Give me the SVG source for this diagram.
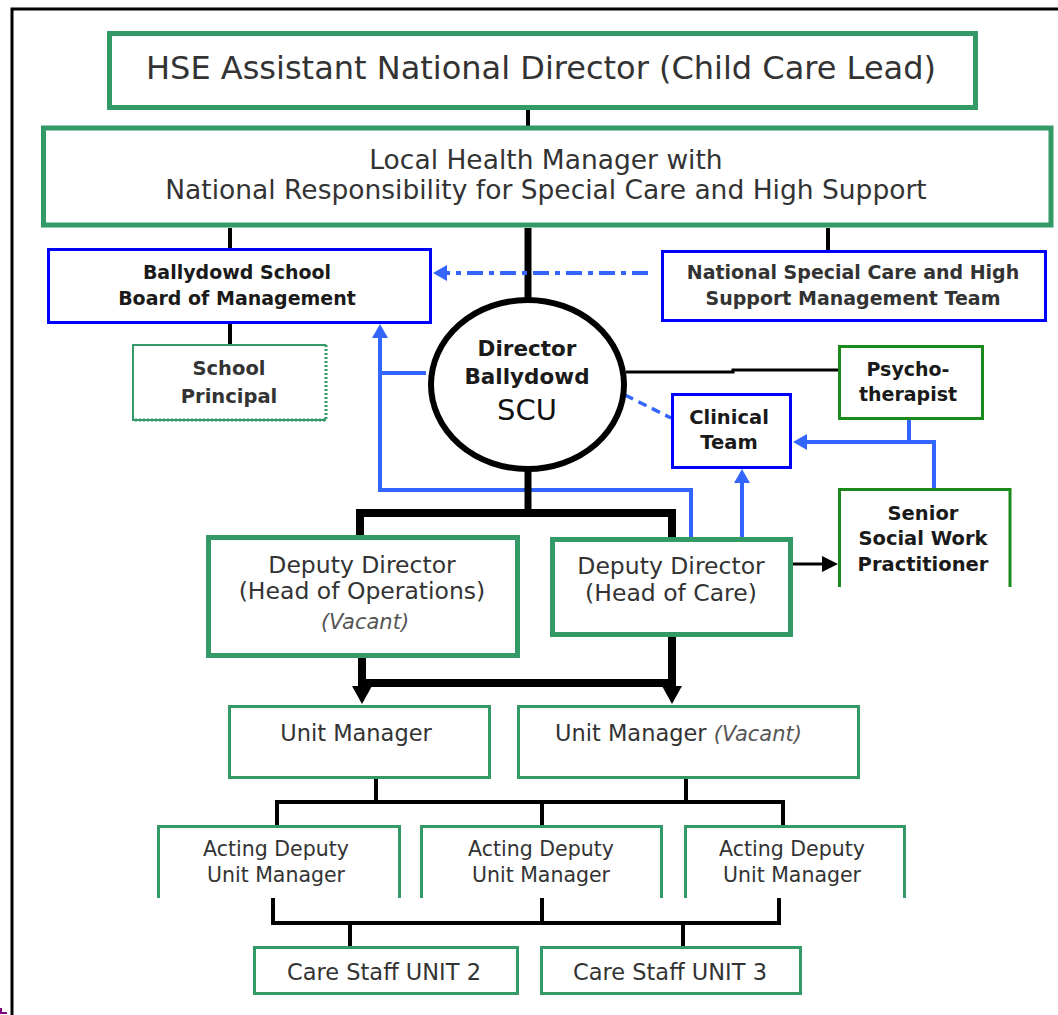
<svg xmlns="http://www.w3.org/2000/svg" width="1058" height="1015" viewBox="0 0 1058 1015">
<defs>
<style>
.t{font-family:"DejaVu Sans",sans-serif;fill:#333;text-anchor:middle}
.b{font-weight:bold;fill:#1a1a1a}
.it{font-style:italic;fill:#555}
.gk{fill:#fff;stroke:#339966;stroke-width:5}
.gt{fill:#fff;stroke:#339966;stroke-width:3}
.gd{fill:none;stroke:#1a8a1a;stroke-width:3}
.bl{fill:#fff;stroke:#0000ff;stroke-width:3}
.k{fill:none;stroke:#000;stroke-width:4}
.kk{fill:none;stroke:#000;stroke-width:8}
.u{fill:none;stroke:#3366ff;stroke-width:4}
</style>
<marker id="ab" markerUnits="userSpaceOnUse" viewBox="0 0 14 16" refX="0" refY="8" markerWidth="14" markerHeight="16" orient="auto"><path d="M0,0 L14,8 L0,16 Z" fill="#3366ff"/></marker>
<marker id="ak" markerUnits="userSpaceOnUse" viewBox="0 0 18 20" refX="0" refY="10" markerWidth="18" markerHeight="20" orient="auto"><path d="M0,0 L18,10 L0,20 Z" fill="#000"/></marker>
<marker id="as" markerUnits="userSpaceOnUse" viewBox="0 0 16 16" refX="0" refY="8" markerWidth="16" markerHeight="16" orient="auto"><path d="M0,0 L16,8 L0,16 Z" fill="#000"/></marker>
</defs>
<rect width="1058" height="1015" fill="#fff"/>
<path d="M12,1015 V9 H1058" fill="none" stroke="#000" stroke-width="3"/>
<path d="M1,1008 V1013 H7" fill="none" stroke="#800080" stroke-width="2"/>

<g id="connectors">
<path class="k" d="M528,110 V126"/>
<path class="k" d="M230,228 V249"/>
<path class="k" d="M828,228 V251"/>
<path fill="none" stroke="#000" stroke-width="7" d="M528,228 V299"/>
<path class="k" d="M230,323 V346"/>
<path class="u" stroke-width="3.5" stroke-dasharray="16,6,5,6" d="M648,273 H447" marker-end="url(#ab)"/>
<path fill="none" stroke="#000" stroke-width="3" d="M626,372 H733 V370 H839"/>
<path fill="none" stroke="#3366ff" stroke-width="3.5" stroke-dasharray="9,6" d="M625,395 L671,418"/>
<path class="u" d="M909,420 V442"/>
<path class="u" d="M934,488 V442 H807" marker-end="url(#ab)"/>
<path class="u" d="M742,537 V483" marker-end="url(#ab)"/>
<path class="u" d="M426,373 H380"/>
<path class="u" d="M691,537 V490 H380 V338" marker-end="url(#ab)"/>
<path fill="none" stroke="#000" stroke-width="7" d="M528,471 V513"/>
<path class="kk" d="M360,537 V513 H672 V539"/>
<path fill="none" stroke="#000" stroke-width="3" d="M793,564 H822" marker-end="url(#as)"/>
<path class="kk" d="M362,657 V683 H672 V636"/>
<path class="kk" d="M362,680 V686" marker-end="url(#ak)"/>
<path class="kk" d="M672,680 V686" marker-end="url(#ak)"/>
<path class="k" d="M376,778 V802"/>
<path class="k" d="M686,778 V802"/>
<path class="k" d="M277,825 V802 H783 V825"/>
<path class="k" d="M542,802 V825"/>
<path class="k" d="M273,898 V923 H779 V898"/>
<path class="k" d="M542,898 V923"/>
<path class="k" d="M350,923 V947"/>
<path class="k" d="M683,923 V947"/>
</g>

<g id="hse">
<rect class="gk" x="109.5" y="33.5" width="866" height="74"/>
<text class="t" x="541" y="79" font-size="32">HSE Assistant National Director (Child Care Lead)</text>
</g>
<g id="lhm">
<rect class="gk" stroke-width="6" x="43.5" y="128" width="1007.5" height="97"/>
<text class="t" x="546" y="169" font-size="26.5">Local Health Manager with</text>
<text class="t" x="546" y="199" font-size="26.5">National Responsibility for Special Care and High Support</text>
</g>
<g id="board">
<rect class="bl" x="48.5" y="249.5" width="382" height="73"/>
<text class="t b" x="237" y="279" font-size="19">Ballydowd School</text>
<text class="t b" x="237" y="305" font-size="19">Board of Management</text>
</g>
<g id="national">
<rect class="bl" x="662.5" y="251.5" width="383" height="69"/>
<text class="t b" x="853" y="279" font-size="19" style="fill:#333">National Special Care and High</text>
<text class="t b" x="853" y="305" font-size="19" style="fill:#333">Support Management Team</text>
</g>
<g id="principal">
<path d="M326,420 H133 V345 H326" fill="#fff" stroke="#339966" stroke-width="2"/>
<path d="M326,345 V420 H133" fill="none" stroke="#339966" stroke-width="3" stroke-dasharray="2,2"/>
<text class="t b" x="229" y="375" font-size="19.5" style="fill:#333">School</text>
<text class="t b" x="229" y="403" font-size="19.5" style="fill:#333">Principal</text>
</g>
<g id="director">
<ellipse cx="527.5" cy="384.5" rx="96.5" ry="84.5" fill="#fff" stroke="#000" stroke-width="6"/>
<text class="t b" x="527" y="356" font-size="21.5">Director</text>
<text class="t b" x="527" y="384" font-size="21.5">Ballydowd</text>
<text class="t" x="527" y="420" font-size="29" style="fill:#111">SCU</text>
</g>
<g id="clinical">
<rect class="bl" x="672.5" y="394.5" width="118" height="73"/>
<text class="t b" x="729" y="424" font-size="19.5">Clinical</text>
<text class="t b" x="729" y="449" font-size="19.5">Team</text>
</g>
<g id="psycho">
<rect class="gd" x="839.5" y="346.5" width="143" height="72" fill="#fff"/>
<text class="t b" x="908" y="376" font-size="19">Psycho-</text>
<text class="t b" x="908" y="401" font-size="19">therapist</text>
</g>
<g id="senior">
<path class="gd" d="M839.5,587 V489.5 H1010 V587"/>
<text class="t b" x="923" y="520" font-size="19.5">Senior</text>
<text class="t b" x="923" y="545" font-size="19.5">Social Work</text>
<text class="t b" x="923" y="571" font-size="19.5">Practitioner</text>
</g>
<g id="dep-ops">
<rect class="gk" x="208.5" y="537.5" width="309" height="118"/>
<text class="t" x="362" y="573" font-size="23.5">Deputy Director</text>
<text class="t" x="362" y="599" font-size="23.5">(Head of Operations)</text>
<text class="t it" x="365" y="629" font-size="21">(Vacant)</text>
</g>
<g id="dep-care">
<rect class="gk" x="552.5" y="539.5" width="238" height="95"/>
<text class="t" x="671" y="574" font-size="23.5">Deputy Director</text>
<text class="t" x="671" y="601" font-size="23.5">(Head of Care)</text>
</g>
<g id="um1">
<rect class="gt" x="229.5" y="706.5" width="260" height="71"/>
<text class="t" x="356" y="741" font-size="22.5">Unit Manager</text>
</g>
<g id="um2">
<rect class="gt" x="518.5" y="706.5" width="340" height="71"/>
<text class="t" x="555" y="741" font-size="22.5" style="text-anchor:start">Unit Manager <tspan class="it" font-size="21">(Vacant)</tspan></text>
</g>
<g id="adum1">
<path class="gt" fill="none" d="M158.5,898 V826.5 H399.5 V898"/>
<text class="t" x="276" y="856" font-size="20.5">Acting Deputy</text>
<text class="t" x="276" y="882" font-size="20.5">Unit Manager</text>
</g>
<g id="adum2">
<path class="gt" fill="none" d="M421.5,898 V826.5 H661.5 V898"/>
<text class="t" x="541" y="856" font-size="20.5">Acting Deputy</text>
<text class="t" x="541" y="882" font-size="20.5">Unit Manager</text>
</g>
<g id="adum3">
<path class="gt" fill="none" d="M685.5,898 V826.5 H904.5 V898"/>
<text class="t" x="792" y="856" font-size="20.5">Acting Deputy</text>
<text class="t" x="792" y="882" font-size="20.5">Unit Manager</text>
</g>
<g id="cs2">
<rect class="gt" x="254.5" y="947.5" width="263" height="46"/>
<text class="t" x="384" y="980" font-size="22.5">Care Staff UNIT 2</text>
</g>
<g id="cs3">
<rect class="gt" x="541.5" y="947.5" width="259" height="46"/>
<text class="t" x="670" y="980" font-size="22.5">Care Staff UNIT 3</text>
</g>
</svg>
